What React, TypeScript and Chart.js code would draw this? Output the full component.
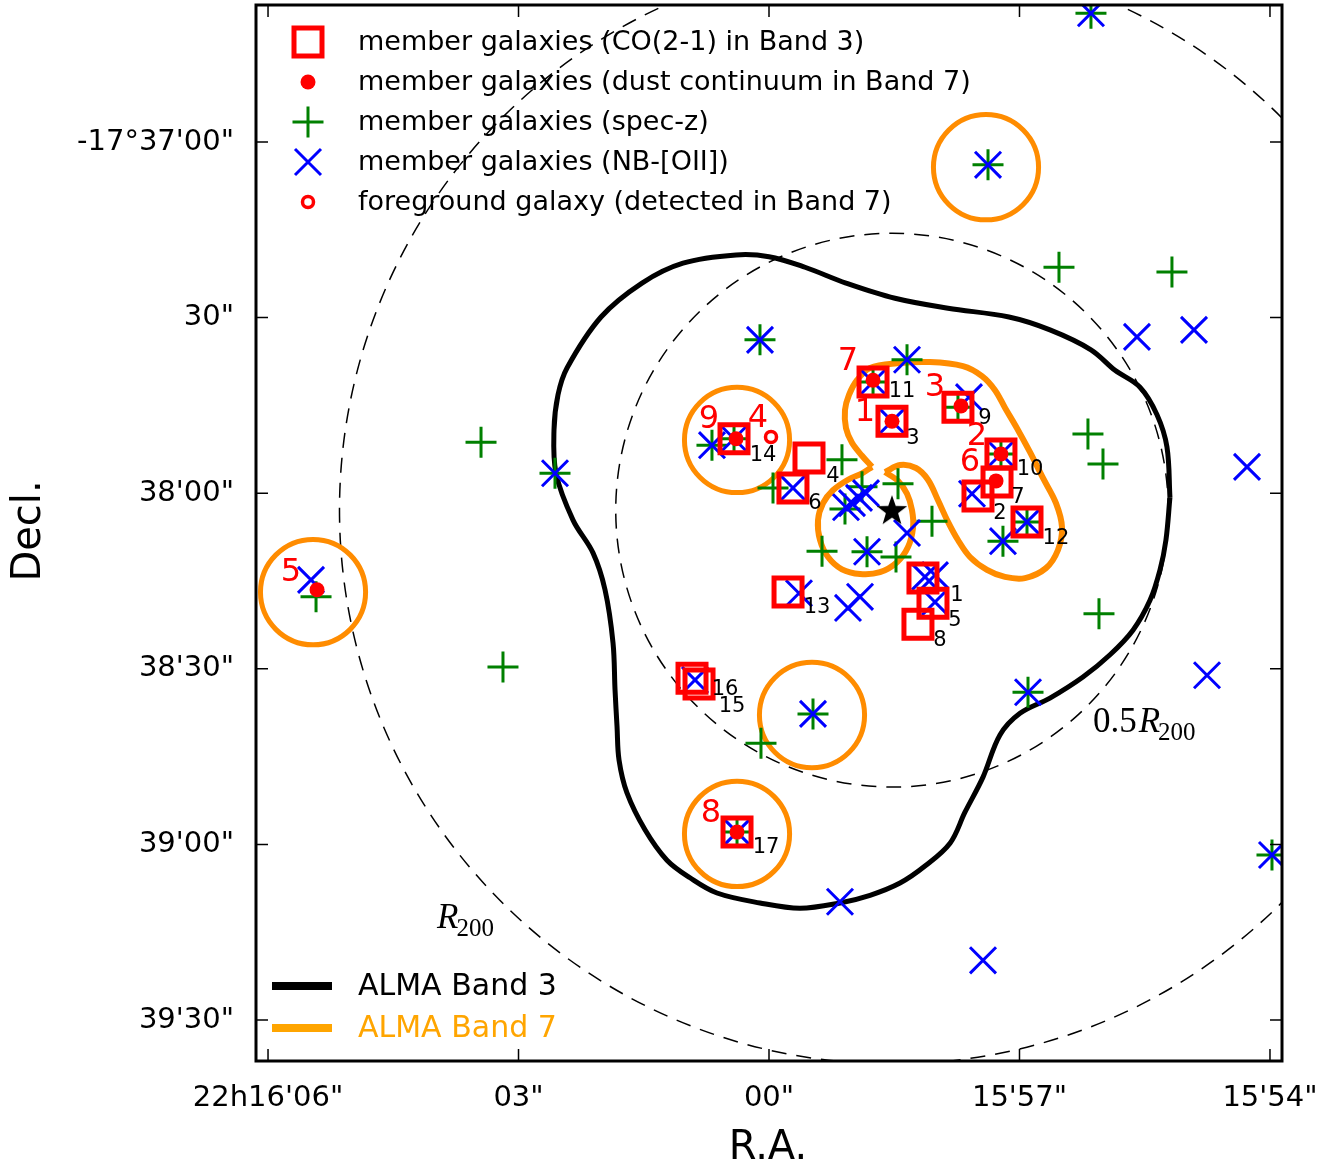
import React, { useEffect, useRef } from 'react';
import { Chart, registerables } from 'chart.js';

Chart.register(...registerables);

const FONT = '"DejaVu Sans", sans-serif';
const MATH_FONT = '"Liberation Serif", "DejaVu Serif", serif';
const RED = '#FF0000';
const GREEN = '#008000';
const BLUE = '#0000FF';
const ORANGE = '#FF8C00';
const ORANGE_LEGEND = '#FFA500';

// x: R.A. seconds after 22h15m ; y: Decl. arcsec relative to -17°37'00"
const xTickValues = [66, 63, 60, 57, 54];
const xTickLabels = ['22h16\'06"', '03"', '00"', '15\'57"', '15\'54"'];
const yTickValues = [0, -30, -60, -90, -120, -150];
const yTickLabels = ['-17°37\'00"', '30"', '38\'00"', '38\'30"', '39\'00"', '39\'30"'];

// member galaxies (spec-z)
const specZ: number[][] = [
  [56.144, 22.0], [57.377, -3.9], [56.527, -21.4], [55.174, -22.2], [60.108, -33.8],
  [58.347, -37.2], [58.754, -41.0], [57.737, -45.3], [57.222, -53.3], [56.910, -64.9],
  [60.419, -50.7], [60.683, -51.8], [63.449, -51.3], [62.563, -56.6], [56.180, -49.9],
  [56.000, -55.0], [59.126, -54.3], [59.952, -59.1], [59.090, -62.7], [58.886, -58.9],
  [58.455, -58.4], [58.048, -64.8], [59.365, -69.9], [58.826, -70.0], [58.479, -70.9],
  [57.198, -68.2], [56.048, -80.6], [65.425, -77.7], [63.186, -89.7], [56.898, -94.0],
  [59.473, -97.7], [60.096, -102.7], [60.383, -117.9], [53.976, -121.8],
];

// member galaxies (NB-[OII])
const nbOII: number[][] = [
  [56.144, 22.0], [57.377, -3.9], [55.593, -33.3], [54.910, -32.1], [60.108, -33.8],
  [58.347, -37.2], [58.754, -41.0], [58.527, -47.7], [57.605, -43.6], [57.222, -53.3],
  [57.569, -60.1], [56.910, -64.9], [57.198, -68.2], [60.419, -50.7], [60.683, -51.8],
  [62.563, -56.6], [59.713, -59.1], [54.275, -55.5], [59.078, -62.4], [59.006, -61.7],
  [58.922, -60.8], [58.838, -60.0], [58.347, -66.8], [58.826, -70.0], [58.132, -74.3],
  [58.012, -74.0], [58.012, -78.6], [59.641, -77.1], [59.054, -79.6], [58.910, -77.7],
  [65.485, -74.8], [60.886, -91.9], [59.473, -97.7], [56.898, -94.0], [54.754, -91.1],
  [60.383, -117.9], [53.976, -121.8], [59.150, -129.8], [57.437, -139.8],
];

// member galaxies (CO(2-1) in Band 3), IDs 1..17
const coIds = ['1', '2', '3', '4', '5', '6', '7', '8', '9', '10', '11', '12', '13', '14', '15', '16', '17'];
const coPos: number[][] = [
  [58.156, -74.5], [57.497, -60.5], [58.527, -47.7], [59.521, -54.0], [58.036, -78.8],
  [59.713, -59.1], [57.269, -58.1], [58.216, -82.4], [57.737, -45.3], [57.222, -53.3],
  [58.754, -41.0], [56.910, -64.9], [59.772, -76.9], [60.419, -50.7], [60.838, -92.6],
  [60.922, -91.6], [60.383, -117.9],
];
const coLabelPos: number[][] = [
  [57.749, -77.4], [57.234, -63.4], [58.275, -50.6], [59.234, -57.1], [57.772, -81.7],
  [59.449, -61.7], [57.018, -60.7], [57.952, -85.1], [57.413, -47.2], [56.874, -56.0],
  [58.407, -42.7], [56.563, -67.8], [59.425, -79.6], [60.072, -53.6], [60.443, -96.4],
  [60.527, -93.6], [60.036, -120.6],
];

// member galaxies (dust continuum in Band 7)
const dustB7: number[][] = [
  [58.754, -40.7], [58.527, -47.7], [57.701, -45.1], [57.222, -53.3],
  [57.281, -57.9], [60.395, -50.7], [65.413, -76.5], [60.383, -117.9],
];
const b7Ids = ['7', '1', '3', '2', '6', '9', '4', '5', '8'];
const b7LabelPos: number[][] = [
  [59.054, -37.6], [58.850, -46.3], [58.012, -42.0], [57.509, -50.4], [57.593, -54.8],
  [60.719, -47.5], [60.132, -47.2], [65.725, -73.5], [60.695, -114.8],
];

// foreground galaxy (detected in Band 7)
const foreground: number[][] = [[59.976, -50.4]];
// cluster centre
const clusterCentre: number[][] = [[58.527, -62.9]];

// ALMA Band 7 single pointings (centre) and field radius (arcsec)
const band7Pointings: number[][] = [
  [57.401, -4.3], [60.383, -50.9], [65.461, -76.9], [59.485, -97.9], [60.383, -118.2],
];
const band7Radius = 9.0;
const r200 = 94.6; // arcsec
const r200Labels = [
  { text: '', x: 63.976, y: -134.3 },
  { text: '0.5', x: 56.120, y: -100.8 },
];

// ALMA Band 3 mosaic coverage contour (closed)
const band3Contour: number[][] = [
  [55.198, -60.7], [55.246, -68.0], [55.317, -73.1], [55.437, -78.3], [55.641, -83.4],
  [55.916, -87.6], [56.240, -91.4], [56.635, -95.0], [56.994, -97.6], [57.234, -101.3],
  [57.437, -108.5], [57.653, -114.5], [57.832, -119.8], [58.132, -123.7], [58.431, -126.6],
  [58.790, -128.7], [59.150, -130.0], [59.629, -130.9], [60.108, -130.0], [60.623, -128.3],
  [60.946, -125.7], [61.222, -122.7], [61.485, -117.5], [61.701, -111.2], [61.796, -105.6],
  [61.820, -99.9], [61.844, -93.6], [61.868, -85.6], [61.964, -76.5], [62.108, -70.2],
  [62.347, -64.6], [62.551, -56.6], [62.575, -49.2], [62.527, -43.2], [62.419, -38.6],
  [62.012, -29.9], [61.521, -24.1], [61.030, -20.7], [60.395, -19.3], [60.000, -19.6],
  [59.569, -21.4], [59.078, -24.1], [58.491, -26.7], [57.856, -28.4], [57.126, -29.9],
  [56.635, -32.1], [56.144, -35.5], [55.856, -39.0], [55.557, -41.9], [55.353, -46.6],
  [55.234, -52.1], [55.198, -60.7],
];

// ALMA Band 7 mosaic contour (upper/right lobe, then lower lobe)
const band7ContourA: number[][] = [
  [58.766, -55.5], [58.886, -53.6], [59.006, -51.4], [59.078, -48.9], [59.090, -45.8],
  [59.042, -43.2], [58.946, -40.7], [58.790, -38.6], [58.467, -37.8], [58.072, -37.6],
  [57.677, -38.3], [57.449, -40.0], [57.293, -42.4], [57.174, -45.4], [57.030, -48.9],
  [56.874, -53.0], [56.719, -57.4], [56.563, -61.7], [56.491, -65.8], [56.539, -69.7],
  [56.683, -72.8], [56.934, -74.5], [57.174, -74.3], [57.389, -73.1], [57.593, -70.9],
  [57.737, -68.0], [57.856, -64.9], [57.976, -61.2], [58.096, -57.7], [58.240, -55.7],
  [58.431, -55.2], [58.611, -56.4],
];
const band7ContourB: number[][] = [
  [58.611, -56.4], [58.455, -57.9], [58.347, -60.1], [58.287, -62.9], [58.275, -65.9],
  [58.335, -69.2], [58.467, -71.8], [58.671, -73.5], [58.910, -73.8], [59.126, -73.0],
  [59.293, -70.9], [59.389, -68.0], [59.413, -64.6], [59.353, -61.7], [59.234, -59.5],
  [59.054, -57.7], [58.886, -56.6], [58.766, -55.5],
];

const DEC0 = -17.62; // degrees, for R.A. scale of circles

function labelFor(v: number, values: number[], labels: string[]) {
  for (let i = 0; i < values.length; i++) if (Math.abs(values[i] - v) < 1e-6) return labels[i];
  return '';
}

function makeStar(size: number) {
  const c = document.createElement('canvas');
  c.width = size;
  c.height = size;
  const g = c.getContext('2d')!;
  const cx = size / 2, cy = size / 2 + 1, R = size / 2 - 1, r = R * 0.4;
  g.beginPath();
  for (let i = 0; i < 10; i++) {
    const a = -Math.PI / 2 + (i * Math.PI) / 5;
    const rad = i % 2 === 0 ? R : r;
    g.lineTo(cx + rad * Math.cos(a), cy + rad * Math.sin(a));
  }
  g.closePath();
  g.fillStyle = 'black';
  g.fill();
  return c;
}

const overlayPlugin = {
  id: 'overlay',
  beforeDatasetsDraw(chart: any) {
    const { ctx, chartArea } = chart;
    const xs = chart.scales.x, ys = chart.scales.y;
    const ellipse = (cx: number, cy: number, r: number) => {
      const px = xs.getPixelForValue(cx), py = ys.getPixelForValue(cy);
      const raSec = r / (15 * Math.cos((DEC0 * Math.PI) / 180));
      const rx = Math.abs(xs.getPixelForValue(cx + raSec) - px);
      const ry = Math.abs(ys.getPixelForValue(cy + r) - py);
      ctx.beginPath();
      ctx.ellipse(px, py, rx, ry, 0, 0, Math.PI * 2);
      ctx.stroke();
    };
    ctx.save();
    ctx.beginPath();
    ctx.rect(chartArea.left, chartArea.top, chartArea.right - chartArea.left, chartArea.bottom - chartArea.top);
    ctx.clip();
    ctx.strokeStyle = 'black';
    ctx.lineWidth = 1.5;
    ctx.setLineDash([15, 10]);
    const c = clusterCentre[0];
    ellipse(c[0], c[1], r200);
    ellipse(c[0], c[1], r200 / 2);
    ctx.setLineDash([]);
    ctx.strokeStyle = ORANGE;
    ctx.lineWidth = 5;
    band7Pointings.forEach((p) => ellipse(p[0], p[1], band7Radius));
    ctx.restore();
  },
  afterDatasetsDraw(chart: any) {
    const { ctx, chartArea } = chart;
    const xs = chart.scales.x, ys = chart.scales.y;
    ctx.save();
    ctx.textAlign = 'center';
    ctx.textBaseline = 'middle';
    // black ID labels
    ctx.fillStyle = 'black';
    ctx.font = `21px ${FONT}`;
    coIds.forEach((id, i) => {
      ctx.fillText(id, xs.getPixelForValue(coLabelPos[i][0]), ys.getPixelForValue(coLabelPos[i][1]));
    });
    // red Band 7 labels
    ctx.fillStyle = RED;
    ctx.font = `32px ${FONT}`;
    b7Ids.forEach((id, i) => {
      ctx.fillText(id, xs.getPixelForValue(b7LabelPos[i][0]), ys.getPixelForValue(b7LabelPos[i][1]));
    });
    // R200 labels
    ctx.fillStyle = 'black';
    ctx.textAlign = 'left';
    ctx.textBaseline = 'alphabetic';
    r200Labels.forEach((l) => {
      let x = xs.getPixelForValue(l.x);
      const b = ys.getPixelForValue(l.y);
      if (l.text) {
        ctx.font = `35px ${MATH_FONT}`;
        ctx.fillText(l.text, x, b);
        x += ctx.measureText(l.text).width + 2;
      }
      ctx.font = `italic 35px ${MATH_FONT}`;
      ctx.fillText('R', x, b);
      x += ctx.measureText('R').width - 2;
      ctx.font = `25px ${MATH_FONT}`;
      ctx.fillText('200', x, b + 8);
    });

    // top legend
    const lx = chartArea.left + 52;
    const tx = chartArea.left + 102;
    const rows = [42, 82, 122, 162, 202].map((v) => chartArea.top + v - 5);
    ctx.lineCap = 'butt';
    ctx.strokeStyle = RED;
    ctx.lineWidth = 5;
    ctx.strokeRect(lx - 14, rows[0] - 14, 28, 28);
    ctx.fillStyle = RED;
    ctx.beginPath();
    ctx.arc(lx, rows[1], 7.5, 0, Math.PI * 2);
    ctx.fill();
    ctx.strokeStyle = GREEN;
    ctx.lineWidth = 3;
    ctx.beginPath();
    ctx.moveTo(lx - 15.5, rows[2]); ctx.lineTo(lx + 15.5, rows[2]);
    ctx.moveTo(lx, rows[2] - 15.5); ctx.lineTo(lx, rows[2] + 15.5);
    ctx.stroke();
    ctx.strokeStyle = BLUE;
    ctx.beginPath();
    ctx.moveTo(lx - 13, rows[3] - 13); ctx.lineTo(lx + 13, rows[3] + 13);
    ctx.moveTo(lx + 13, rows[3] - 13); ctx.lineTo(lx - 13, rows[3] + 13);
    ctx.stroke();
    ctx.strokeStyle = RED;
    ctx.lineWidth = 3.5;
    ctx.beginPath();
    ctx.arc(lx, rows[4], 5.5, 0, Math.PI * 2);
    ctx.stroke();
    const legendTexts = [
      'member galaxies (CO(2-1) in Band 3)',
      'member galaxies (dust continuum in Band 7)',
      'member galaxies (spec-z)',
      'member galaxies (NB-[OII])',
      'foreground galaxy (detected in Band 7)',
    ];
    ctx.fillStyle = 'black';
    ctx.font = `27px ${FONT}`;
    ctx.textBaseline = 'middle';
    legendTexts.forEach((t, i) => ctx.fillText(t, tx, rows[i] + 1));

    // bottom legend
    const lines = [
      { y: 986, color: 'black', text: 'ALMA Band 3', tc: 'black' },
      { y: 1028, color: ORANGE_LEGEND, text: 'ALMA Band 7', tc: ORANGE_LEGEND },
    ];
    ctx.font = `30px ${FONT}`;
    lines.forEach((l) => {
      ctx.strokeStyle = l.color;
      ctx.lineWidth = 8;
      ctx.beginPath();
      ctx.moveTo(272, l.y);
      ctx.lineTo(332, l.y);
      ctx.stroke();
      ctx.fillStyle = l.tc;
      ctx.fillText(l.text, 358, l.y + 1);
    });
    ctx.restore();
  },
  afterDraw(chart: any) {
    const { ctx, chartArea } = chart;
    const xs = chart.scales.x, ys = chart.scales.y;
    const { left, right, top, bottom } = chartArea;
    ctx.save();
    ctx.strokeStyle = 'black';
    ctx.lineWidth = 1.5;
    ctx.beginPath();
    xTickValues.forEach((v) => {
      const p = xs.getPixelForValue(v);
      ctx.moveTo(p, top); ctx.lineTo(p, top + 12);
      ctx.moveTo(p, bottom); ctx.lineTo(p, bottom - 12);
    });
    yTickValues.forEach((v) => {
      const p = ys.getPixelForValue(v);
      ctx.moveTo(left, p); ctx.lineTo(left + 12, p);
      ctx.moveTo(right, p); ctx.lineTo(right - 12, p);
    });
    ctx.stroke();
    ctx.lineWidth = 3;
    ctx.strokeRect(left, top, right - left, bottom - top);
    // axis titles
    ctx.fillStyle = 'black';
    ctx.font = `40px ${FONT}`;
    ctx.textAlign = 'center';
    ctx.textBaseline = 'middle';
    ctx.fillText('R.A.', (left + right) / 2 - 1, 1149);
    ctx.translate(30, 531);
    ctx.rotate(-Math.PI / 2);
    ctx.fillText('Decl.', 0, 0);
    ctx.restore();
  },
};

export default function App() {
  const ref = useRef<HTMLCanvasElement>(null);
  useEffect(() => {
    const canvas = ref.current;
    if (!canvas) return;
    const star = makeStar(34);
    const toXY = (p: number[]) => ({ x: p[0], y: p[1] });
    const markerBase = { showLine: false, clip: 0 };
    const lineBase = { showLine: true, pointRadius: 0, tension: 0.35, clip: 0, fill: false };
    const chart = new Chart(canvas, {
      type: 'scatter',
      data: {
        datasets: [
          { ...markerBase, label: 'centre', data: clusterCentre.map(toXY), pointStyle: star as any, pointRadius: 17, order: 0 },
          { ...markerBase, label: 'foreground', data: foreground.map(toXY), pointStyle: 'circle', pointRadius: 5.5, pointBorderWidth: 3.5, pointBorderColor: RED, pointBackgroundColor: 'white', order: 1 },
          { ...markerBase, label: 'dust', data: dustB7.map(toXY), pointStyle: 'circle', pointRadius: 7.5, pointBorderWidth: 0, pointBorderColor: RED, pointBackgroundColor: RED, order: 2 },
          { ...markerBase, label: 'CO', data: coPos.map(toXY), pointStyle: 'rect', pointRadius: 19.8, pointBorderWidth: 5, pointBorderColor: RED, pointBackgroundColor: 'rgba(0,0,0,0)', order: 3 },
          { ...markerBase, label: 'NB', data: nbOII.map(toXY), pointStyle: 'crossRot', pointRadius: 18.4, pointBorderWidth: 3, pointBorderColor: BLUE, pointBackgroundColor: BLUE, order: 4 },
          { ...markerBase, label: 'specz', data: specZ.map(toXY), pointStyle: 'cross', pointRadius: 15.5, pointBorderWidth: 3, pointBorderColor: GREEN, pointBackgroundColor: GREEN, order: 5 },
          { ...lineBase, label: 'b7a', data: band7ContourA.map(toXY), borderColor: ORANGE, borderWidth: 6, order: 6 },
          { ...lineBase, label: 'b7b', data: band7ContourB.map(toXY), borderColor: ORANGE, borderWidth: 6, order: 7 },
          { ...lineBase, label: 'b3', data: band3Contour.map(toXY), borderColor: 'black', borderWidth: 5, order: 8 },
        ] as any,
      },
      options: {
        responsive: false,
        animation: false,
        devicePixelRatio: 1,
        events: [],
        layout: { autoPadding: false, padding: { top: 5, right: 55, left: 0, bottom: 0 } },
        plugins: { legend: { display: false }, tooltip: { enabled: false } },
        scales: {
          x: {
            type: 'linear',
            reverse: true,
            min: 53.856,
            max: 66.144,
            grid: { display: false },
            border: { display: false },
            afterBuildTicks: (s: any) => { s.ticks = xTickValues.map((v) => ({ value: v })); },
            afterFit: (s: any) => { s.height = 110; s.paddingLeft = 0; s.paddingRight = 0; },
            ticks: {
              autoSkip: false, maxRotation: 0, minRotation: 0, padding: 12, color: 'black',
              font: { family: FONT, size: 29 },
              callback: (v: any) => labelFor(Number(v), xTickValues, xTickLabels),
            },
          },
          y: {
            type: 'linear',
            min: -157.0,
            max: 23.4,
            grid: { display: false },
            border: { display: false },
            afterBuildTicks: (s: any) => { s.ticks = yTickValues.map((v) => ({ value: v })); },
            afterFit: (s: any) => { s.width = 256; s.paddingTop = 0; s.paddingBottom = 0; },
            ticks: {
              autoSkip: false, padding: 14, color: 'black',
              font: { family: FONT, size: 29 },
              callback: (v: any) => labelFor(Number(v), yTickValues, yTickLabels),
            },
          },
        },
      } as any,
      plugins: [overlayPlugin],
    });
    return () => chart.destroy();
  }, []);
  return (
    <div style={{ position: 'absolute', left: 0, top: 0, width: 1337, height: 1171, background: 'white' }}>
      <canvas ref={ref} width={1337} height={1171} style={{ display: 'block' }} />
    </div>
  );
}
